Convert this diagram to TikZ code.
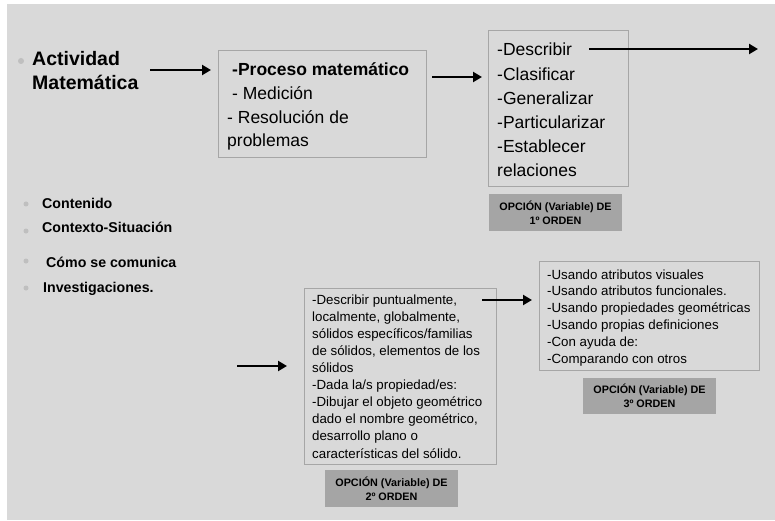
\documentclass[tikz,border=0pt]{standalone}
\usepackage{fontspec}
\setmainfont{Liberation Sans}
\usetikzlibrary{arrows.meta}
\definecolor{bgc}{HTML}{D9D9D9}
\definecolor{framec}{HTML}{A6A6A6}
\definecolor{labc}{HTML}{A5A5A5}
\definecolor{dotc}{HTML}{BFBFBF}
\tikzset{
  frame/.style={draw=framec, line width=0.9pt, anchor=north west, inner sep=0pt},
  lab/.style={fill=labc, inner sep=0pt, align=center, font=\bfseries\fontsize{10.8}{14}\selectfont},
  arr/.style={line width=2.8pt, -{Triangle[length=9pt,width=10pt]}},
  txt/.style={anchor=base west, inner sep=0pt, align=left},
  dot/.style={circle, fill=dotc, inner sep=0pt, minimum size=5pt}
}
\begin{document}
\begin{tikzpicture}[x=1pt,y=-1pt]
\useasboundingbox (0,0) rectangle (775,521);
\fill[bgc] (7,4) rectangle (775,520);

% title (anchors are at the baseline of the last line)
\node[dot, minimum size=6pt] (d0) at (21,61) {};
\node[txt, font=\bfseries\fontsize{19.5}{24}\selectfont] (act) at (32,90) {Actividad\\Matemática};

% box 1
\node[frame, minimum width=208pt, minimum height=107pt] (b1) at (218,50) {};
\node[txt, font=\fontsize{17.5}{23.7}\selectfont] (t1) at (227,147)
  {\hspace*{5pt}\textbf{-Proceso matemático}\\\hspace*{5pt}- Medición\\- Resolución de\\problemas};

% box 2
\node[frame, minimum width=140pt, minimum height=156pt] (b2) at (488,30) {};
\node[txt, font=\fontsize{17.5}{24.2}\selectfont] (t2) at (497,177)
  {-Describir\\-Clasificar\\-Generalizar\\-Particularizar\\-Establecer\\relaciones};
\node[lab, minimum width=133pt, minimum height=37pt] (l1) at (555.5,212.5) {OPCIÓN (Variable) DE\\1º ORDEN};

% left list
\node[dot] (d1) at (26,204) {};
\node[dot] (d2) at (26,231) {};
\node[dot] (d3) at (26,261) {};
\node[dot] (d4) at (26,288) {};
\node[txt, font=\bfseries\fontsize{14.2}{17}\selectfont] (c1) at (42,208) {Contenido};
\node[txt, font=\bfseries\fontsize{14.2}{17}\selectfont] (c2) at (42,232) {Contexto-Situación};
\node[txt, font=\bfseries\fontsize{14.2}{17}\selectfont] (c3) at (46,267) {Cómo se comunica};
\node[txt, font=\bfseries\fontsize{14.2}{17}\selectfont] (c4) at (43,292) {Investigaciones.};

% box 3
\node[frame, minimum width=192pt, minimum height=176pt] (b3) at (304,288) {};
\node[txt, font=\fontsize{13.3}{17.1}\selectfont] (t3) at (312,458)
  {-Describir puntualmente,\\localmente, globalmente,\\sólidos específicos/familias\\de sólidos, elementos de los\\sólidos\\-Dada la/s propiedad/es:\\-Dibujar el objeto geométrico\\dado el nombre geométrico,\\desarrollo plano o\\características del sólido.};
\node[lab, minimum width=133pt, minimum height=37pt] (l2) at (391.5,488.5) {OPCIÓN (Variable) DE\\2º ORDEN};

% box 4
\node[frame, minimum width=220pt, minimum height=109pt] (b4) at (539,261) {};
\node[txt, font=\fontsize{13.3}{16.8}\selectfont] (t4) at (547,363)
  {-Usando atributos visuales\\-Usando atributos funcionales.\\-Usando propiedades geométricas\\-Usando propias definiciones\\-Con ayuda de:\\-Comparando con otros};
\node[lab, minimum width=133pt, minimum height=36pt] (l3) at (649.5,396) {OPCIÓN (Variable) DE\\3º ORDEN};

% arrows
\coordinate (a1s) at (150,70);  \coordinate (a1e) at (211,70);
\coordinate (a2s) at (432,77);  \coordinate (a2e) at (482,77);
\coordinate (a3s) at (589,49);  \coordinate (a3e) at (758,49);
\coordinate (a4s) at (237,366); \coordinate (a4e) at (287,366);
\coordinate (a5s) at (482,300); \coordinate (a5e) at (532,300);
\draw[arr] (a1s) -- (a1e);
\draw[arr] (a2s) -- (a2e);
\draw[arr] (a3s) -- (a3e);
\draw[arr] (a4s) -- (a4e);
\draw[arr] (a5s) -- (a5e);
\end{tikzpicture}
\end{document}
